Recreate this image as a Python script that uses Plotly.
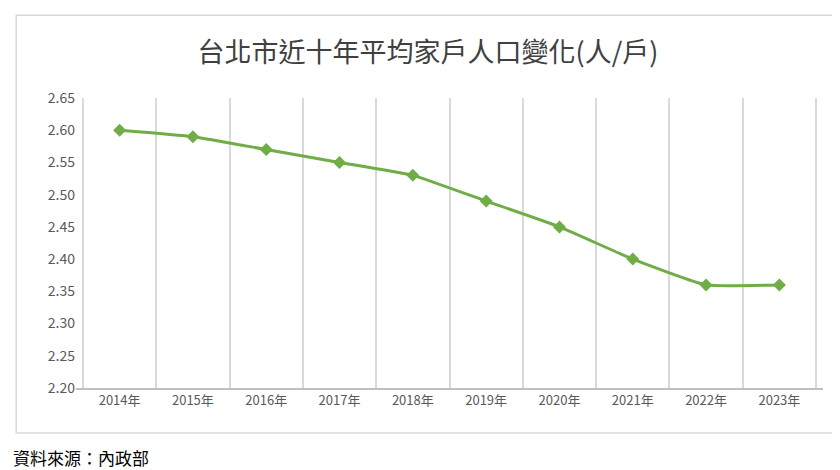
import plotly.graph_objects as go

years = ["2014年", "2015年", "2016年", "2017年", "2018年",
         "2019年", "2020年", "2021年", "2022年", "2023年"]
avg_household = [2.60, 2.59, 2.57, 2.55, 2.53, 2.49, 2.45, 2.40, 2.36, 2.36]
y_ticks = [2.20, 2.25, 2.30, 2.35, 2.40, 2.45, 2.50, 2.55, 2.60, 2.65]

font_family = "Noto Sans CJK TC, DejaVu Serif"
green = "#70AD47"

fig = go.Figure()
fig.add_trace(go.Scatter(
    x=years, y=avg_household,
    mode="lines+markers",
    line=dict(color=green, width=3, shape="spline", smoothing=0.4),
    marker=dict(symbol="diamond", size=10, color=green),
    showlegend=False,
))

fig.update_layout(
    width=840, height=470,
    margin=dict(l=68, r=25, t=90, b=90, autoexpand=False),
    paper_bgcolor="white", plot_bgcolor="white",
    font=dict(family=font_family, color="#595959"),
    title=dict(text="台北市近十年平均家戶人口變化(人/戶)",
               x=0.5, xanchor="center", y=0.905, yanchor="middle",
               font=dict(size=27, color="#404040", family=font_family)),
    xaxis=dict(type="category", tickson="boundaries", showgrid=True,
               gridcolor="#D9D9D9", gridwidth=1.5, showline=True,
               linecolor="#BFBFBF", linewidth=1.5, ticks="", automargin=False,
               tickfont=dict(size=13, color="#595959")),
    yaxis=dict(range=[2.20, 2.65], tickvals=y_ticks,
               ticktext=[f"{v:.2f}" for v in y_ticks], automargin=False,
               showgrid=False, zeroline=False, ticks="",
               tickfont=dict(size=14, color="#595959")),
    shapes=[dict(type="rect", xref="paper", yref="paper",
                 x0=-0.08, x1=1.02, y0=-0.155, y1=1.285,
                 line=dict(color="#D9D9D9", width=1.5))],
    annotations=[dict(text="資料來源：內政部", xref="paper", yref="paper",
                      x=-0.087, y=-0.24, xanchor="left", yanchor="middle",
                      showarrow=False,
                      font=dict(size=17, color="black", family=font_family))],
)

fig.write_html("out.html")
